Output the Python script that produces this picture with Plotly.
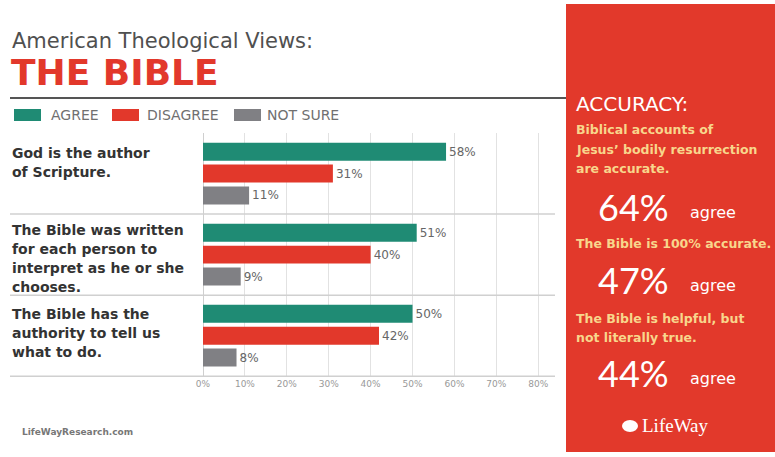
import plotly.graph_objects as go

# ---------------- data ----------------
statements = [
    ["God is the author", "of Scripture."],
    ["The Bible was written", "for each person to", "interpret as he or she", "chooses."],
    ["The Bible has the", "authority to tell us", "what to do."],
]
cat_ids = ["Q1", "Q2", "Q3"]
agree = [58, 51, 50]
disagree = [31, 40, 42]
not_sure = [11, 9, 8]
series_names = ["AGREE", "DISAGREE", "NOT SURE"]
tick_values = [0, 10, 20, 30, 40, 50, 60, 70, 80]
tick_labels = ["0%", "10%", "20%", "30%", "40%", "50%", "60%", "70%", "80%"]

accuracy_statements = [
    ["Biblical accounts of", "Jesus’ bodily resurrection", "are accurate."],
    ["The Bible is 100% accurate."],
    ["The Bible is helpful, but", "not literally true."],
]
accuracy_values = [64, 47, 44]

# ---------------- styles ----------------
GREEN = "#1f8b74"
RED = "#e2382b"
GRAY = "#808084"
PANEL = "#e2392b"
YELLOW = "#f8d68c"
colors = [GREEN, RED, GRAY]

W, H = 775, 457
L, R, T, B = 203, 555, 133, 377


def px(x):
    return (x - L) / (R - L)


def py(y):
    return (B - y) / (B - T)


fig = go.Figure()
for name, vals, col in zip(series_names, [agree, disagree, not_sure], colors):
    fig.add_trace(go.Bar(
        y=cat_ids, x=vals, name=name, orientation="h",
        marker=dict(color=col, line=dict(width=0)),
        text=[f"{v}%" for v in vals], texttemplate="%{text}", textposition="outside",
        textfont=dict(family="DejaVu Sans", size=12, color="#666666"),
        cliponaxis=False, showlegend=False, hoverinfo="skip",
    ))

shapes = []
annotations = []

# red side panel
shapes.append(dict(type="rect", xref="paper", yref="paper",
                   x0=px(566), x1=px(776), y0=py(452), y1=py(4),
                   fillcolor=PANEL, line=dict(width=0), layer="below"))
# header rule
shapes.append(dict(type="line", xref="paper", yref="paper",
                   x0=px(10), x1=px(566), y0=py(98), y1=py(98),
                   line=dict(color="#555555", width=2)))
# group separators
for yv in [0.5, 1.5, 2.5]:
    shapes.append(dict(type="line", xref="paper", yref="y",
                       x0=px(10), x1=1.0, y0=yv, y1=yv,
                       line=dict(color="#d0d0d0", width=1.5)))

# titles
annotations.append(dict(text="American Theological Views:", xref="paper", yref="paper",
                        x=px(10), y=py(41), xanchor="left", yanchor="middle", showarrow=False,
                        font=dict(family="DejaVu Sans", size=21, color="#505050")))
annotations.append(dict(text="THE BIBLE", xref="paper", yref="paper",
                        x=px(9), y=py(72), xanchor="left", yanchor="middle", showarrow=False,
                        font=dict(family="DejaVu Sans", size=36, color=RED, weight="bold")))

# legend
legend_pos = [(14, 49), (112, 145), (234, 265)]
for (sx, tx), name, col in zip(legend_pos, series_names, colors):
    shapes.append(dict(type="rect", xref="paper", yref="paper",
                       x0=px(sx), x1=px(sx + 27), y0=py(121), y1=py(109),
                       fillcolor=col, line=dict(width=0)))
    annotations.append(dict(text=name, xref="paper", yref="paper",
                            x=px(tx), y=py(115), xanchor="left", yanchor="middle",
                            showarrow=False,
                            font=dict(family="DejaVu Sans", size=14, color="#707070")))

# category labels (one annotation per line, 19 px apart)
first_shift = [21, 25, 22]
for cid, lines, fs in zip(cat_ids, statements, first_shift):
    for i, line in enumerate(lines):
        annotations.append(dict(text="<b>" + line + "</b>", xref="paper", yref="y",
                                x=px(10), y=cid, xanchor="left", yanchor="middle",
                                yshift=fs - 19 * i, align="left", showarrow=False,
                                font=dict(family="DejaVu Sans", size=14, color="#333333")))

# panel text
annotations.append(dict(text="ACCURACY:", xref="paper", yref="paper",
                        x=px(574), y=py(104), xanchor="left", yanchor="middle", showarrow=False,
                        font=dict(family="DejaVu Sans", size=20, color="white")))
stmt_first = [130, 243, 318]
num_y = [207, 280, 373]
for first, lines, yy, v in zip(stmt_first, accuracy_statements, num_y, accuracy_values):
    for i, line in enumerate(lines):
        annotations.append(dict(text="<b>" + line + "</b>", xref="paper", yref="paper",
                                x=px(574), y=py(first + 19 * i), xanchor="left", yanchor="middle",
                                align="left", showarrow=False,
                                font=dict(family="DejaVu Sans", size=12.5, color=YELLOW)))
    annotations.append(dict(text=f"{v}%", xref="paper", yref="paper",
                            x=px(596), y=py(yy), xanchor="left", yanchor="middle",
                            showarrow=False,
                            font=dict(family="Lato", size=36, color="white")))
    annotations.append(dict(text="agree", xref="paper", yref="paper",
                            x=px(688), y=py(yy + 5), xanchor="left", yanchor="middle",
                            showarrow=False,
                            font=dict(family="DejaVu Sans", size=16, color="white")))

# logo
shapes.append(dict(type="circle", xref="paper", yref="paper",
                   x0=px(622), x1=px(638), y0=py(432), y1=py(420),
                   fillcolor="white", line=dict(width=0)))
annotations.append(dict(text="LifeWay", xref="paper", yref="paper",
                        x=px(640), y=py(425), xanchor="left", yanchor="middle", showarrow=False,
                        font=dict(family="Liberation Serif", size=19, color="white")))

# footer
annotations.append(dict(text="<b>LifeWayResearch.com</b>", xref="paper", yref="paper",
                        x=px(20), y=py(432), xanchor="left", yanchor="middle", showarrow=False,
                        font=dict(family="DejaVu Sans", size=9, color="#777777")))

fig.update_layout(
    width=W, height=H,
    margin=dict(l=L, r=W - R, t=T, b=H - B, pad=0),
    paper_bgcolor="white", plot_bgcolor="white",
    barmode="group", bargap=0.19, bargroupgap=0.18,
    shapes=shapes, annotations=annotations,
    showlegend=False, hovermode=False,
)
fig.update_xaxes(range=[0, 84], tickvals=tick_values, ticktext=tick_labels,
                 showgrid=True, gridcolor="#e2e2e2", gridwidth=1,
                 zeroline=True, zerolinecolor="#cfcfcf", zerolinewidth=1,
                 tickfont=dict(family="DejaVu Sans", size=9, color="#999999"),
                 ticks="", showline=False, fixedrange=True)
fig.update_yaxes(autorange="reversed", showticklabels=False, showgrid=False,
                 zeroline=False, showline=False, fixedrange=True)

fig.write_html("out.html", config={"displayModeBar": False},
               post_script="document.body.style.margin='0';document.body.style.overflow='hidden';")
